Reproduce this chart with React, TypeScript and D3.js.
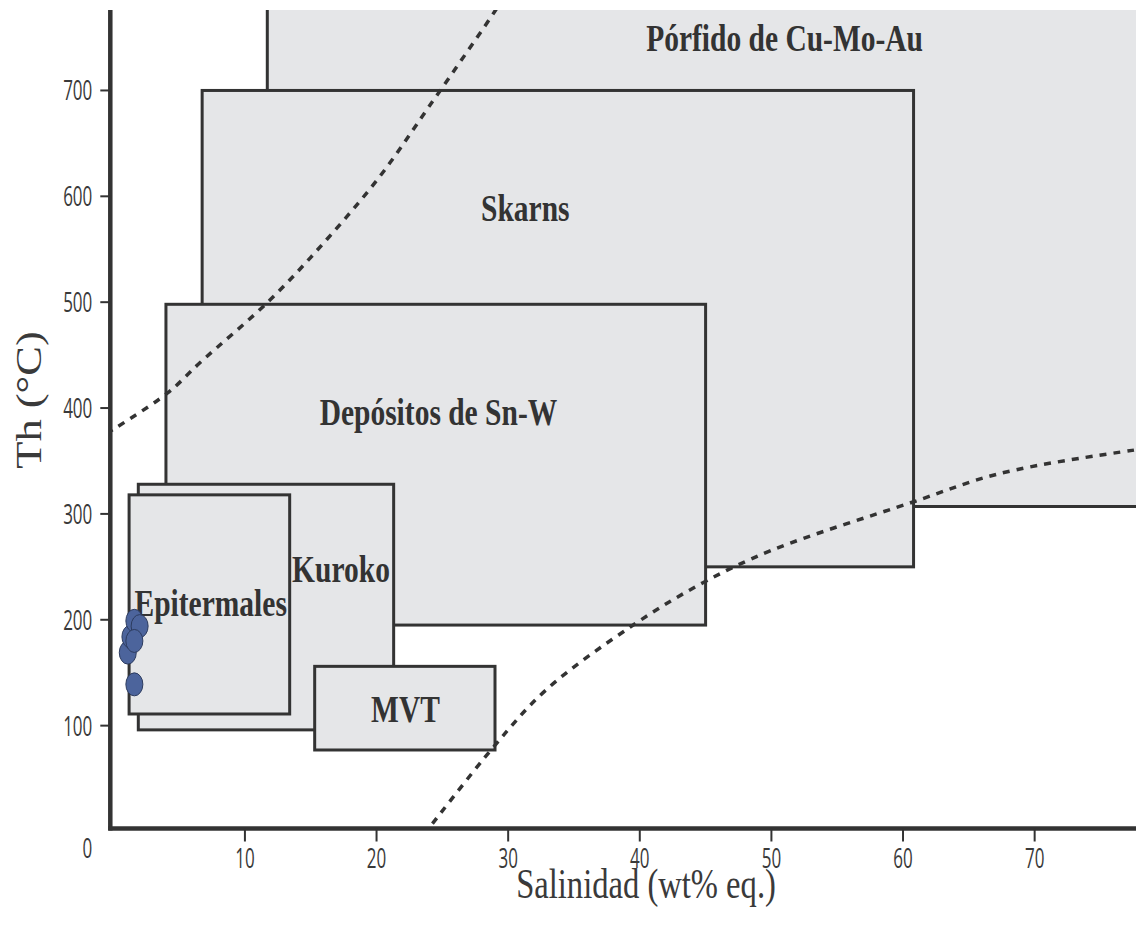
import React from 'react'
import * as d3 from 'd3'

// region boxes: [x0, x1] salinity, [y0, y1] temperature
const boxNames = ['Pórfido de Cu-Mo-Au', 'Skarns', 'Depósitos de Sn-W', 'Kuroko', 'Epitermales', 'MVT']
const boxSal = [[11.7, 80], [6.75, 60.8], [4.0, 45.0], [1.9, 21.3], [1.2, 13.4], [15.3, 29.0]]
const boxTh = [[307, 820], [250, 700], [195, 498], [96, 328], [111, 318], [77, 156]]
// label anchor (salinity, temperature of baseline)
const labelSal = [51.0, 31.3, 24.7, 17.3, 7.4, 22.2]
const labelTh = [737, 577, 384, 236, 204, 103]

// fluid inclusion data
const ptSal = [1.1, 1.3, 1.6, 2.0, 1.6, 1.6]
const ptTh = [169, 184, 199, 194, 180, 139]

// dashed boundary curves
const curve1 = [[-0.5, 376], [4.1, 414], [6.6, 443], [11.9, 502], [16.2, 559], [20.2, 618], [24.0, 685], [29.0, 775], [29.5, 785]]
const curve2 = [[23.6, -3], [28.9, 80], [32.9, 134], [39.5, 195], [44.8, 235], [50.1, 266], [60.7, 311], [67.3, 338], [77.4, 360], [80, 364]]

const xTicks = [10, 20, 30, 40, 50, 60, 70]
const yTicks = [100, 200, 300, 400, 500, 600, 700]

export default function App() {
  const W = 1136, H = 927
  const x = d3.scaleLinear().domain([0, 77.7]).range([113.3, 1136])
  const y = d3.scaleLinear().domain([0, 776]).range([831.5, 10])
  const axisX = x(0) - 3
  const axisY = y(0) - 3
  const stroke = '#333'
  const fill = '#e5e6e8'
  const vs = 1.27

  const line = d3.line<number[]>()
    .x(d => x(d[0]))
    .y(d => y(d[1]))
    .curve(d3.curveCatmullRom)

  return (
    <svg width={W} height={H} style={{ position: 'absolute', left: 0, top: 0, background: '#fff' }}>
      <defs>
        <clipPath id="plot">
          <rect x={axisX} y={y(776)} width={W - axisX} height={axisY - y(776)} />
        </clipPath>
      </defs>
      <g clipPath="url(#plot)">
        {boxNames.map((n, i) => (
          <rect key={n}
            x={x(boxSal[i][0])} y={y(boxTh[i][1])}
            width={x(boxSal[i][1]) - x(boxSal[i][0])}
            height={y(boxTh[i][0]) - y(boxTh[i][1])}
            fill={fill} stroke={stroke} strokeWidth={3} />
        ))}
        {[curve1, curve2].map((c, i) => (
          <path key={i} d={line(c) || ''} fill="none" stroke={stroke}
            strokeWidth={3.5} strokeDasharray="7 7" />
        ))}
        {boxNames.map((n, i) => (
          <text key={n} transform={`translate(${x(labelSal[i])},${y(labelTh[i])}) scale(1,${vs})`}
            textAnchor="middle" fontFamily="'Liberation Serif', 'Times New Roman', serif"
            fontWeight="bold" fontSize={29.5} fill={stroke}>{n}</text>
        ))}
        {ptSal.map((s, i) => (
          <ellipse key={i} cx={x(s)} cy={y(ptTh[i])} rx={8.5} ry={11.5}
            fill="#4c649c" stroke="#2c3b5e" strokeWidth={1} />
        ))}
      </g>

      {/* axes */}
      <line x1={axisX} x2={axisX} y1={y(776)} y2={axisY + 2} stroke={stroke} strokeWidth={4.5} />
      <line x1={axisX - 2} x2={W} y1={axisY} y2={axisY} stroke={stroke} strokeWidth={4.5} />

      {yTicks.map(t => (
        <g key={t}>
          <line x1={axisX - 10} x2={axisX} y1={y(t)} y2={y(t)} stroke={stroke} strokeWidth={2} />
          <text transform={`translate(${axisX - 18},${y(t) + 10}) scale(0.85,1.4)`}
            textAnchor="end" fontFamily="'Open Sans', sans-serif" fontSize={20} fill="#3a3a3a">{t}</text>
        </g>
      ))}
      <text transform={`translate(${axisX - 18},${y(0) + 26}) scale(0.85,1.4)`}
        textAnchor="end" fontFamily="'Open Sans', sans-serif" fontSize={20} fill="#3a3a3a">0</text>

      {xTicks.map(t => (
        <g key={t}>
          <line x1={x(t)} x2={x(t)} y1={axisY} y2={axisY + 13} stroke={stroke} strokeWidth={2} />
          <text transform={`translate(${x(t)},${axisY + 39}) scale(0.85,1.35)`}
            textAnchor="middle" fontFamily="'Open Sans', sans-serif" fontSize={20} fill="#3a3a3a">{t}</text>
        </g>
      ))}

      <text transform={`translate(${(516 + 776) / 2},${898}) scale(1,${vs})`}
        textAnchor="middle" fontFamily="'Liberation Serif', 'Times New Roman', serif"
        fontSize={32.6} fill="#3a3a3a">Salinidad (wt% eq.)</text>
      <text transform={`translate(${41},${(333 + 467) / 2}) rotate(-90) scale(${vs},1)`}
        textAnchor="middle" fontFamily="'Liberation Serif', 'Times New Roman', serif"
        fontSize={35} fill="#3a3a3a">Th (°C)</text>
    </svg>
  )
}
